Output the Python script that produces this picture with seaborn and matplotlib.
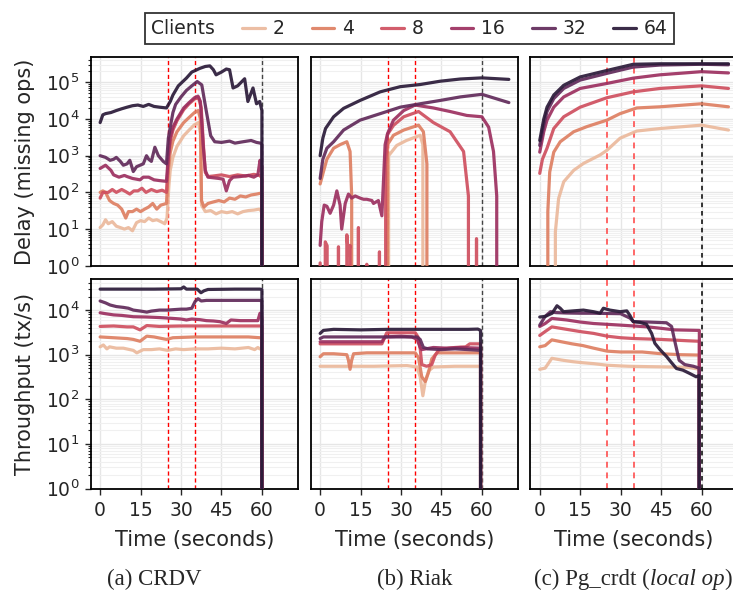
import matplotlib
matplotlib.use("Agg")
import numpy as np
import pandas as pd
import matplotlib.pyplot as plt
from matplotlib.lines import Line2D
from matplotlib.offsetbox import HPacker
from matplotlib.ticker import LogLocator, NullFormatter
import seaborn as sns

# ---------------------------------------------------------------- data
CLIENTS = [2, 4, 8, 16, 32, 64]
SYSTEMS = ["CRDV", "Riak", "Pg_crdt"]
X_TICKS = [0, 15, 30, 45, 60]
PARTITION_MARKS = [25, 35]
END_MARK = 60

# (time [s], missing ops) -- CRDV
CRDV_DELAY_2 = [(0, 11), (1, 13), (2, 18), (3, 14), (4.5, 16), (6, 12), (7.5, 11), (9, 10), (10.5, 11), (12, 9),
                (13.5, 15), (15, 17), (16.5, 16), (18, 20), (19.5, 17), (21, 18), (22.5, 16), (24, 14), (24.8, 20),
                (25.5, 150), (26, 400), (27, 900), (28.5, 1.8e3), (31, 3.5e3), (33, 5e3), (35, 7e3), (36.5, 8e3),
                (37.2, 4e3), (37.6, 45), (39, 30), (41, 32), (43, 26), (45, 30), (47, 28), (49, 30), (51, 26),
                (53, 30), (55, 32), (57, 33), (59, 35), (60, 30), (60, 0)]
CRDV_DELAY_4 = [(0, 100), (1, 110), (2, 100), (3.5, 60), (5, 50), (6.5, 45), (8, 35), (9.5, 20), (10.5, 30), (12, 30),
                (13.5, 35), (15, 30), (16.5, 35), (18, 40), (19.5, 50), (21, 35), (22.5, 45), (24.6, 50), (25.3, 400),
                (26, 1.2e3), (27, 2.5e3), (28.5, 4.5e3), (31, 8e3), (33, 1.1e4), (35, 1.5e4), (36.4, 1.7e4),
                (37.2, 1e4), (37.6, 60), (38.5, 40), (40, 50), (42, 55), (44, 60), (46, 55), (48, 70), (50, 65),
                (52, 80), (54, 75), (56, 85), (58, 90), (59.5, 95), (60, 90), (60, 0)]
CRDV_DELAY_8 = [(0, 70), (1, 100), (3, 100), (4.5, 120), (6, 100), (8, 120), (9.5, 105), (11, 90), (12.5, 110),
                (14, 110), (15.5, 130), (17, 100), (19, 120), (21, 105), (23, 115), (24.6, 100), (25.3, 800),
                (26, 2.5e3), (27, 5e3), (28.5, 9e3), (31, 1.8e4), (33, 2.6e4), (35, 3.5e4), (36.5, 3.8e4),
                (37.5, 2e4), (38.4, 1.5e3), (39, 350), (40, 270), (42, 280), (45, 300), (48, 270), (51, 300),
                (54, 280), (57, 310), (59.2, 290), (60, 250), (60, 0)]
CRDV_DELAY_16 = [(0, 450), (2, 550), (4, 400), (5, 300), (7, 260), (9, 290), (10, 270), (12, 240), (14.8, 220),
                 (16, 260), (18, 260), (20, 220), (22, 210), (24.6, 200), (25.3, 1e3), (26, 3.2e3), (27, 6e3),
                 (28.5, 1e4), (31, 2e4), (33, 2.8e4), (35, 3.8e4), (36.3, 4.2e4), (37.2, 3e4), (38.2, 2e3),
                 (39, 400), (40, 260), (42, 250), (44, 240), (45.6, 230), (46.8, 110), (48, 210), (49.3, 260),
                 (52, 270), (55, 290), (57, 260), (58.5, 300), (59.3, 750), (60, 500), (60, 0)]
CRDV_DELAY_32 = [(0, 1e3), (2, 900), (3.7, 750), (5, 800), (6, 900), (7.5, 700), (8.6, 550), (10, 600), (11, 750),
                 (12.3, 370), (13.5, 500), (14.8, 550), (16, 600), (17.2, 1e3), (18, 800), (19, 700), (20.3, 1.7e3),
                 (21.6, 1e3), (23.4, 700), (24.6, 600), (25.3, 3e3), (26, 6e3), (27, 1.5e4), (28, 2.5e4), (30, 4e4),
                 (32, 6e4), (34, 8e4), (36, 1.05e5), (37.7, 8.5e4), (39.4, 1.6e4), (41, 3.5e3), (42.5, 2.4e3),
                 (45, 2.3e3), (48, 2.5e3), (50, 2.2e3), (53, 2.4e3), (56, 2.6e3), (58, 2.3e3), (59.5, 2.2e3),
                 (60, 2e3), (60, 0)]
CRDV_DELAY_64 = [(0, 8e3), (1, 1.3e4), (2, 1.4e4), (4, 1.5e4), (6, 1.7e4), (8, 1.9e4), (10, 2.1e4), (12, 2.3e4),
                 (14, 2.4e4), (16, 2.2e4), (18, 2.5e4), (20, 2.2e4), (22, 2.1e4), (24.6, 2e4), (26, 3e4), (27, 4.5e4),
                 (29, 8e4), (32, 1.3e5), (34, 1.9e5), (37, 2.4e5), (39, 2.7e5), (40.7, 2.8e5), (42, 2.2e5),
                 (43, 1.6e5), (45, 1.9e5), (46.8, 2.3e5), (48, 2.2e5), (49.3, 7e4), (51, 8e4), (53.6, 1.25e5),
                 (54.8, 3e4), (56.7, 7e4), (58, 2.6e4), (59.2, 3e4), (60, 1.7e4), (60, 0)]

CRDV_TPUT_2 = [(0, 1.5e3), (1.2, 1.65e3), (2.5, 1.35e3), (3.5, 1.5e3), (6, 1.4e3), (8.6, 1.4e3), (12.3, 1.25e3),
               (13.6, 1.1e3), (16, 1.3e3), (19, 1.3e3), (22, 1.35e3), (25, 1.25e3), (28, 1.35e3), (31, 1.3e3),
               (35, 1.35e3), (40, 1.35e3), (45, 1.4e3), (50, 1.35e3), (55, 1.45e3), (57.3, 1.3e3), (58.5, 1.45e3),
               (59.2, 1.35e3), (60, 1.35e3), (60, 0)]
CRDV_TPUT_4 = [(0, 2.5e3), (5, 2.4e3), (10, 2.3e3), (12.3, 2.2e3), (14.8, 2e3), (17.3, 2.6e3), (20, 2.5e3),
               (24.6, 2.2e3), (27, 2.4e3), (35, 2.5e3), (45, 2.5e3), (55, 2.5e3), (59.2, 2.4e3), (60, 2.4e3), (60, 0)]
CRDV_TPUT_8 = [(0, 4.3e3), (5, 4.4e3), (10, 4.2e3), (12.3, 4.2e3), (14.8, 3.6e3), (17.3, 4.5e3), (22, 4.3e3),
               (30, 4.4e3), (40, 4.4e3), (50, 4.4e3), (59.2, 4.4e3), (60, 4.4e3), (60, 0)]
CRDV_TPUT_16 = [(0, 8.7e3), (2, 8.3e3), (5, 7.8e3), (8, 7.6e3), (12.3, 7.1e3), (17, 7e3), (22, 6.8e3), (27, 6.5e3),
                (30, 6.3e3), (32, 6e3), (34, 6.3e3), (37, 6.1e3), (39.4, 5.8e3), (42, 5.7e3), (44.4, 5.5e3),
                (46.8, 5e3), (48.5, 6e3), (52, 5.8e3), (56, 5.8e3), (58.5, 5.8e3), (59.3, 8.5e3), (60, 7e3), (60, 0)]
CRDV_TPUT_32 = [(0, 1.6e4), (2, 1.45e4), (3.7, 1.3e4), (6, 1.2e4), (8.6, 1.15e4), (10.5, 1.1e4), (12.3, 1e4),
                (15, 9.5e3), (17.3, 9e3), (19, 9.5e3), (22, 1e4), (25, 1e4), (27, 1.02e4), (30, 1.05e4),
                (32, 1.05e4), (34, 1.1e4), (35.2, 1.55e4), (36.3, 1.8e4), (37.5, 1.6e4), (39.4, 1.65e4),
                (45, 1.65e4), (50, 1.65e4), (55, 1.65e4), (59.2, 1.65e4), (60, 1.6e4), (60, 0)]
CRDV_TPUT_64 = [(0, 2.95e4), (10, 2.95e4), (20, 2.95e4), (30, 3e4), (31, 3.3e4), (32, 2.95e4), (36, 2.95e4),
                (37.4, 2.45e4), (38.5, 2.7e4), (40, 2.9e4), (50, 2.95e4), (59.2, 2.95e4), (60, 2.9e4), (60, 0)]

# Riak
RIAK_DELAY_2 = [(0, 0), (24.8, 0), (25.4, 1e3), (28.4, 1.9e3), (32, 2.6e3), (37.1, 3.6e3), (38.1, 2e3), (38.6, 0)]
RIAK_DELAY_4 = [(0, 170), (1.2, 360), (2.5, 800), (5, 1.6e3), (7.4, 2e3), (9.9, 2.4e3), (11.1, 1.3e3), (11.7, 80),
                (12.1, 0), (23.8, 0), (25, 2e3), (27.2, 3.6e3), (31, 5e3), (36.5, 6.8e3), (38.3, 4.5e3),
                (39.6, 600), (40.2, 0)]
RIAK_DELAY_8 = [(0, 1.2), (1, 0), (1.9, 4.5), (2.6, 3.5), (3.3, 0), (6, 0), (6.8, 3.3), (7.6, 0), (9.1, 0),
                (9.9, 7), (10.5, 2), (11.1, 3.6), (12, 0), (13.5, 0), (14.2, 11), (15, 0), (16.6, 0), (17.3, 1.1),
                (18, 0), (21.3, 0), (22, 2.4), (22.7, 0), (23.6, 0), (24.3, 600), (25, 3.8e3), (27.2, 6.7e3),
                (31, 1.15e4), (36.5, 1.6e4), (42, 8e3), (48.2, 4.5e3), (53.2, 1.3e3), (55, 80), (56, 0),
                (57.3, 0), (58, 5.5), (58.7, 0)]
RIAK_DELAY_16 = [(0, 3.6), (0.6, 16), (1.5, 45), (2.5, 42), (3.7, 27), (5, 45), (6.2, 110), (7.4, 45), (8, 10),
                 (9.3, 50), (10.5, 90), (11.7, 70), (13, 80), (14.8, 70), (16.1, 65), (17.3, 65), (19.2, 60),
                 (19.8, 50), (21.6, 60), (22.9, 23), (23.3, 100), (24.1, 2e3), (25, 4e3), (27.2, 9.3e3), (31, 1.7e4),
                 (35.2, 2.4e4), (42, 2e4), (48.2, 1.6e4), (54.4, 1.25e4), (60, 1.15e4), (62.5, 6e3), (64.3, 1.3e3),
                 (65.5, 80), (66.2, 0)]
RIAK_DELAY_32 = [(0, 240), (1, 800), (2.5, 1.6e3), (5, 2.4e3), (8.7, 5e3), (14.8, 9.3e3), (22.3, 1.4e4),
                 (29.7, 2.1e4), (37.1, 2.6e4), (44.5, 3.2e4), (52, 4e4), (60, 4.7e4), (70, 2.8e4)]
RIAK_DELAY_64 = [(0, 1e3), (1, 3e3), (2, 5.5e3), (5, 1.15e4), (8.7, 1.95e4), (14.8, 3.2e4), (22.3, 5.5e4),
                 (29.7, 7.6e4), (37.1, 8.7e4), (44.5, 1.07e5), (52, 1.23e5), (60, 1.32e5), (70, 1.2e5)]

RIAK_TPUT_2 = [(0, 550), (10, 550), (20, 550), (32.2, 570), (35.9, 530), (37.1, 320), (38.1, 120), (39, 250),
               (40.2, 430), (42, 530), (50, 550), (59.5, 550), (60, 0)]
RIAK_TPUT_4 = [(0, 900), (1.2, 1.05e3), (5, 1.05e3), (9.9, 1e3), (10.5, 750), (11.1, 470), (11.7, 750),
               (12.4, 1.05e3), (17.3, 1.1e3), (25, 1.1e3), (35.3, 1.1e3), (36.5, 850), (37.7, 320), (39, 250),
               (40.2, 400), (41.4, 800), (43.3, 1.1e3), (48, 1.1e3), (55, 1.1e3), (59.5, 1.1e3), (60, 0)]
RIAK_TPUT_8 = [(0, 1.75e3), (10, 1.75e3), (22.9, 1.75e3), (24.7, 3.1e3), (30, 3.1e3), (35.3, 3.1e3), (36.3, 2.5e3),
               (37.1, 1.4e3), (37.7, 600), (39.5, 550), (41.4, 600), (42.6, 950), (43.9, 1.25e3), (45, 1.35e3),
               (50, 1.45e3), (54, 1.5e3), (55.5, 1.75e3), (59.5, 1.75e3), (60, 0)]
RIAK_TPUT_16 = [(0, 1.95e3), (10, 1.95e3), (22.9, 1.95e3), (24.1, 2.5e3), (30, 2.6e3), (34, 2.5e3), (36, 2.2e3),
                (37.1, 1.45e3), (37.7, 1.3e3), (42, 1.45e3), (47, 1.4e3), (52, 1.45e3), (59.5, 1.4e3), (60, 0)]
RIAK_TPUT_32 = [(0, 2.3e3), (1.2, 2.5e3), (10, 2.5e3), (20, 2.5e3), (30, 2.5e3), (35.9, 2.5e3), (37.1, 2.2e3),
                (38.3, 1.45e3), (40, 1.35e3), (45, 1.3e3), (50, 1.35e3), (55, 1.3e3), (59.5, 1.25e3), (60, 0)]
RIAK_TPUT_64 = [(0, 3e3), (1.2, 3.5e3), (5, 3.7e3), (15, 3.6e3), (25, 3.7e3), (35, 3.7e3), (45, 3.7e3),
                (55, 3.7e3), (58.5, 3.75e3), (59.5, 3.5e3), (60, 0)]

# Pg_crdt (local op)
PG_DELAY_2 = [(0, 0), (4.9, 0), (5.8, 8.5), (7, 68), (8.9, 195), (12.6, 400), (16.3, 620), (22.4, 1.05e3),
              (24.9, 1.4e3), (29.8, 3e3), (36, 4.7e3), (44.6, 5.5e3), (60, 6.8e3), (70, 5e3)]
PG_DELAY_4 = [(0, 0), (2.7, 0), (3, 30), (3.7, 360), (5.2, 1.25e3), (7.6, 2.4e3), (12.6, 4.5e3), (17.5, 6.2e3),
              (24.9, 9.3e3), (29.8, 1.4e4), (36, 2e4), (44.6, 2.15e4), (60, 2.6e4), (70, 2.15e4)]
PG_DELAY_8 = [(0, 330), (1, 800), (2.7, 1.6e3), (5.2, 5.5e3), (8.9, 1.15e4), (15, 2.1e4), (24.9, 3.8e4),
              (34.7, 5.5e4), (44.6, 6.8e4), (60, 8e4), (70, 6.8e4)]
PG_DELAY_16 = [(0, 1.25e3), (1.5, 4.5e3), (2.7, 9.3e3), (5.2, 2.1e4), (8.9, 4e4), (15, 6.8e4), (24.9, 9.3e4),
               (34.7, 1.3e5), (44.6, 1.6e5), (60, 1.95e5), (70, 1.8e5)]
PG_DELAY_32 = [(0, 1.9e3), (1.5, 6.8e3), (2.7, 1.6e4), (5.2, 3.6e4), (8.9, 6.8e4), (15, 1.15e5), (24.9, 1.75e5),
               (34.7, 2.6e5), (44.6, 2.95e5), (60, 3.1e5), (70, 3e5)]
PG_DELAY_64 = [(0, 2.6e3), (1.5, 1e4), (2.7, 2.1e4), (5.2, 4.5e4), (8.9, 8.3e4), (15, 1.4e5), (24.9, 2.1e5),
               (34.7, 3.1e5), (44.6, 3.2e5), (60, 3.2e5), (70, 3.2e5)]

PG_TPUT_2 = [(0, 470), (2, 500), (4.5, 830), (8, 760), (12, 700), (16, 660), (20, 630), (25, 580), (30, 560),
             (33, 550), (40, 540), (48, 530), (55, 520), (58.5, 480), (59.2, 490), (60, 0)]
PG_TPUT_4 = [(0, 1.5e3), (2, 1.6e3), (4.5, 2.15e3), (8, 1.95e3), (12, 1.75e3), (16, 1.6e3), (20, 1.4e3),
             (25, 1.2e3), (30, 1.15e3), (38, 1.15e3), (45, 1.05e3), (52, 1e3), (59.2, 980), (60, 0)]
PG_TPUT_8 = [(0, 2.7e3), (2, 3.3e3), (4.5, 4.2e3), (10, 3.7e3), (15, 3.3e3), (20, 3e3), (25, 2.6e3), (30, 2.4e3),
             (35, 2.3e3), (45, 2.2e3), (55, 2.05e3), (59.2, 2e3), (60, 0)]
PG_TPUT_16 = [(0, 4.3e3), (2, 5e3), (4.5, 6.5e3), (10, 6e3), (15, 5.4e3), (20, 5e3), (30, 4.6e3), (40, 4.2e3),
              (45, 3.9e3), (50, 3.6e3), (59.2, 3.5e3), (60, 0)]
PG_TPUT_32 = [(0, 4.6e3), (2, 7.2e3), (4, 9.2e3), (6, 8.8e3), (10, 8.6e3), (15, 8.5e3), (20, 8.5e3), (25, 8.4e3),
              (30, 8.3e3), (33.5, 6.6e3), (34.7, 5.5e3), (40, 5.4e3), (47, 5.2e3), (48.9, 4.3e3), (50.1, 2e3),
              (51.7, 750), (53.8, 600), (57, 550), (59.1, 500), (60, 0)]
PG_TPUT_64 = [(0, 7e3), (2, 7.2e3), (4.6, 8.5e3), (6.4, 1.25e4), (7.6, 1.1e4), (8.8, 9.2e3), (12.5, 9.6e3),
              (16.2, 1e4), (19.9, 9.2e3), (22.4, 8.5e3), (23.6, 1.1e4), (26, 1e4), (29.8, 9.2e3), (32.3, 9.6e3),
              (33.5, 7.5e3), (34.7, 5.5e3), (37.2, 5.3e3), (39.6, 4.8e3), (41.5, 3e3), (42.7, 1.8e3), (44.6, 1.3e3),
              (47.1, 900), (48.3, 730), (50.7, 490), (53.1, 450), (55.6, 380), (58, 320), (59.1, 340), (60, 0)]

DELAY = {
    "CRDV": [CRDV_DELAY_2, CRDV_DELAY_4, CRDV_DELAY_8, CRDV_DELAY_16, CRDV_DELAY_32, CRDV_DELAY_64],
    "Riak": [RIAK_DELAY_2, RIAK_DELAY_4, RIAK_DELAY_8, RIAK_DELAY_16, RIAK_DELAY_32, RIAK_DELAY_64],
    "Pg_crdt": [PG_DELAY_2, PG_DELAY_4, PG_DELAY_8, PG_DELAY_16, PG_DELAY_32, PG_DELAY_64],
}
THROUGHPUT = {
    "CRDV": [CRDV_TPUT_2, CRDV_TPUT_4, CRDV_TPUT_8, CRDV_TPUT_16, CRDV_TPUT_32, CRDV_TPUT_64],
    "Riak": [RIAK_TPUT_2, RIAK_TPUT_4, RIAK_TPUT_8, RIAK_TPUT_16, RIAK_TPUT_32, RIAK_TPUT_64],
    "Pg_crdt": [PG_TPUT_2, PG_TPUT_4, PG_TPUT_8, PG_TPUT_16, PG_TPUT_32, PG_TPUT_64],
}


def long_frame(series_list):
    rows = []
    for n, pts in zip(CLIENTS, series_list):
        for t, v in pts:
            rows.append({"Time": t, "Value": v, "Clients": str(n)})
    return pd.DataFrame(rows)


# ---------------------------------------------------------------- style
sns.set_theme(style="whitegrid")
plt.rcParams["font.family"] = ["DejaVu Sans"]
plt.rcParams["axes.edgecolor"] = "black"
plt.rcParams["axes.linewidth"] = 1.3

hue_labels = [str(c) for c in CLIENTS]
colors = sns.blend_palette(["#ebb99c", "#de7f62", "#cf4f5f", "#9c3060", "#612a5a", "#2a1a38"], len(CLIENTS))

W, H = 733, 599
fig = plt.figure(figsize=(W / 100, H / 100), dpi=100)

col_left = [90.7, 310.7, 530.3]
col_w = 207.6
rows_px = [(57.3, 265.8), (279.3, 488.5)]
ylims = [(1, 4.8e5), (1, 4.9e4)]

axes = []
for r, (top, bot) in enumerate(rows_px):
    row_axes = []
    for c, left in enumerate(col_left):
        ax = fig.add_axes([left / W, 1 - bot / H, col_w / W, (bot - top) / H])
        row_axes.append(ax)
    axes.append(row_axes)

for r, table in enumerate([DELAY, THROUGHPUT]):
    for c, system in enumerate(SYSTEMS):
        ax = axes[r][c]
        df = long_frame(table[system])
        sns.lineplot(data=df, x="Time", y="Value", hue="Clients", hue_order=hue_labels,
                     palette=colors, estimator=None, sort=False, legend=False,
                     linewidth=2.3, alpha=0.92, ax=ax, zorder=3)
        ax.set_yscale("log")
        ax.set_ylim(*ylims[r])
        ax.set_xlim(-3.5, 73.5)

        # partition window and end of run
        if c == 2:
            for x in PARTITION_MARKS:
                ax.axvline(x, color="#ff4d4d", lw=1.4, ls=(0, (3, 2.5)), alpha=0.85, zorder=2)
            ax.axvline(END_MARK, color="black", lw=1.1, ls=(0, (3, 2.5)), zorder=2)
        else:
            for x in PARTITION_MARKS:
                ax.axvline(x, color="red", lw=1.0, ls=(0, (3, 2)), zorder=2)
            ax.axvline(END_MARK, color="#444444", lw=1.0, ls=(0, (3, 2)), zorder=2)

        ax.set_xticks(X_TICKS)
        ax.yaxis.set_major_locator(LogLocator(base=10, numticks=12))
        ax.yaxis.set_minor_locator(LogLocator(base=10, subs=np.arange(2, 10), numticks=12))
        ax.yaxis.set_minor_formatter(NullFormatter())
        ax.grid(True, which="major", color="#e6e6e6", lw=1.0)
        ax.grid(True, which="minor", axis="y", color="#f0f0f0", lw=0.8)
        for s in ax.spines.values():
            s.set_color("black")
            s.set_linewidth(1.3)

        ax.tick_params(axis="both", which="major", labelsize=13.5)
        if c == 0:
            ax.tick_params(axis="y", which="major", left=True, length=4, width=1, pad=4)
            ax.tick_params(axis="y", which="minor", left=True, length=2.5, width=0.8)
        else:
            ax.tick_params(axis="y", which="both", left=False, labelleft=False)
        if r == 1:
            ax.tick_params(axis="x", which="major", bottom=True, length=4, width=1, pad=5)
            ax.set_xlabel("Time (seconds)", fontsize=15, labelpad=7)
        else:
            ax.tick_params(axis="x", which="both", bottom=False, labelbottom=False)
            ax.set_xlabel("")
        if c == 0:
            ax.set_ylabel("Delay (missing ops)" if r == 0 else "Throughput (tx/s)", fontsize=15, labelpad=8)
        else:
            ax.set_ylabel("")

# ---------------------------------------------------------------- legend
handles = [Line2D([], [], color=col, lw=2.3, alpha=0.92) for col in colors]
leg = fig.legend(handles, hue_labels, title="Clients", loc="upper center",
                 bbox_to_anchor=(409.5 / W, 1 - 4 / H), ncol=len(CLIENTS), fontsize=13.5,
                 title_fontsize=13.5, frameon=True, fancybox=False, edgecolor="black",
                 handlelength=1.2, handletextpad=0.42, columnspacing=1.45, borderpad=0.32)
leg.get_frame().set_linewidth(1.3)
fs = leg._fontsize
# title sits to the left of the entries, on the same row
box = HPacker(pad=leg.borderpad * fs, sep=1.45 * fs, align="center",
              children=[leg._legend_title_box, leg._legend_handle_box])
box.set_figure(fig)
box.axes = leg.axes
leg._legend_box = box
box.set_offset(leg._findoffset)

# ---------------------------------------------------------------- captions
cap_kw = dict(fontsize=16.5, family=["Liberation Serif", "DejaVu Serif"], va="center", ha="left")
fig.text(107 / W, 1 - 579 / H, "(a) CRDV", **cap_kw)
fig.text(377 / W, 1 - 579 / H, "(b) Riak", **cap_kw)
renderer = fig.canvas.get_renderer()
t1 = fig.text(534 / W, 1 - 579 / H, "(c) Pg_crdt (", **cap_kw)
x1 = t1.get_window_extent(renderer).x1
t2 = fig.text(x1 / W, 1 - 579 / H, "local op", style="italic", **cap_kw)
x2 = t2.get_window_extent(renderer).x1
fig.text(x2 / W, 1 - 579 / H, ")", **cap_kw)

fig.savefig("out.png", dpi=100)
